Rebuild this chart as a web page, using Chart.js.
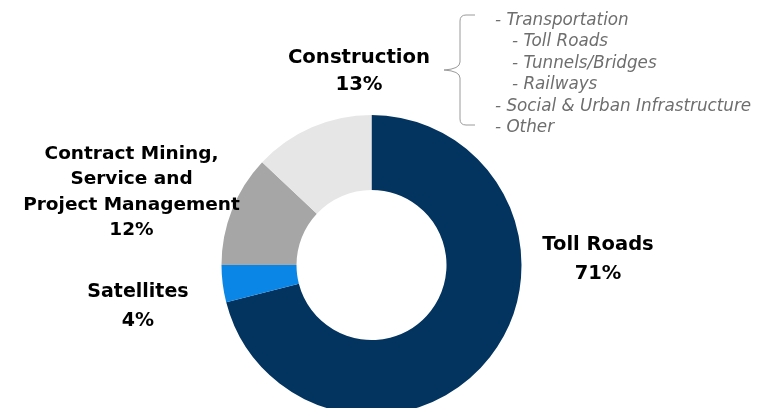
<!DOCTYPE html>
<html>
<head>
<meta charset="utf-8">
<script src="https://cdn.jsdelivr.net/npm/chart.js@4"></script>
<style>
  html, body { margin: 0; padding: 0; background: #fff; overflow: hidden; }
  #wrap { position: relative; width: 781px; height: 430px; }
</style>
</head>
<body>
<div id="wrap"><canvas id="segmentos" width="781" height="430"></canvas></div>
<script>
// dados do gráfico de rosca (segmentos)
var categorias = ['Toll Roads', 'Satellites', 'Contract Mining, Service and Project Management', 'Construction'];
var percentuais = [71, 4, 12, 13];
var cores = ['#03345f', '#0a87e6', '#a6a6a6', '#e6e6e6'];

// rótulos de texto (linha de base) e lista lateral
var rotulos = [
  { linhas: ['Toll Roads', '71%'], x: 598, y: 250, tam: 19.5, passo: 28.5 },
  { linhas: ['Satellites', '4%'], x: 138, y: 297, tam: 19, passo: 28.5 },
  { linhas: ['Contract Mining,', 'Service and', 'Project Management', '12%'], x: 131.5, y: 158.5, tam: 18.5, passo: 25.5 },
  { linhas: ['Construction', '13%'], x: 359, y: 63, tam: 19.7, passo: 27 }
];
var lista = ['- Transportation', '   - Toll Roads', '   - Tunnels/Bridges', '   - Railways', '- Social & Urban Infrastructure', '- Other'];

var fonte = '"DejaVu Sans", sans-serif';

var textos = {
  id: 'textos',
  afterDraw: function (chart) {
    var c = chart.ctx;
    c.save();
    c.textAlign = 'center';
    c.textBaseline = 'alphabetic';
    c.fillStyle = '#000';
    rotulos.forEach(function (r) {
      c.font = 'bold ' + r.tam + 'px ' + fonte;
      r.linhas.forEach(function (l, i) {
        c.fillText(l, r.x, r.y + i * r.passo);
      });
    });

    // lista em itálico
    c.textAlign = 'left';
    c.fillStyle = '#6e6e6e';
    c.font = 'italic 16.8px ' + fonte;
    lista.forEach(function (l, i) {
      var ind = l.indexOf('   ') === 0 ? 17 : 0;
      c.fillText(l.trim(), 495 + ind, 25 + i * 21.4);
    });

    // chave
    c.strokeStyle = '#9a9a9a';
    c.lineWidth = 1;
    c.beginPath();
    c.moveTo(475, 15);
    c.lineTo(466, 15);
    c.quadraticCurveTo(460, 15, 460, 21);
    c.lineTo(460, 62);
    c.quadraticCurveTo(460, 69, 444, 70);
    c.quadraticCurveTo(460, 71, 460, 78);
    c.lineTo(460, 119);
    c.quadraticCurveTo(460, 125, 466, 125);
    c.lineTo(475, 125);
    c.stroke();
    c.restore();
  }
};

var ctx = segmentos.getContext('2d');

var grafico = new Chart(ctx, {
  type: 'doughnut',
  data: {
    labels: categorias,
    datasets: [{
      data: percentuais,
      backgroundColor: cores,
      borderWidth: 0
    }]
  },
  options: {
    responsive: false,
    animation: false,
    cutout: '50%',
    layout: { padding: { top: 115, bottom: 15, left: 221.5, right: 259.5 } },
    plugins: {
      legend: { display: false },
      tooltip: { enabled: false }
    }
  },
  plugins: [textos]
});
</script>
</body>
</html>
